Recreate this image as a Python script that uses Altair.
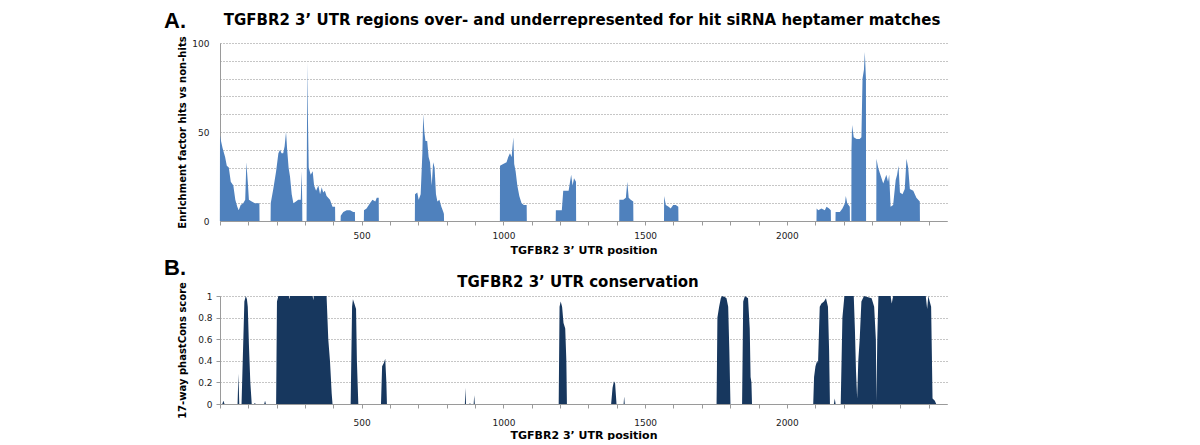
import altair as alt
import pandas as pd

FONT = "DejaVu Sans"
LABEL_FONT = "Liberation Sans"

# ---------------- Panel A: enrichment factor (hits vs non-hits), one list per region
# (UTR position, enrichment factor)
a_region_1 = [(0, 48), (2, 46), (9, 41), (18, 36), (24, 31), (31, 30), (38, 22), (47, 20), (54, 12),
              (61, 8), (66, 6), (73, 9), (82, 10), (89, 12), (93, 33), (98, 22), (102, 12), (112, 11),
              (123, 10), (139, 10)]
a_region_2 = [(179, 10), (188, 18), (198, 28), (206, 38), (212, 40), (217, 38), (223, 38), (228, 42),
              (233, 50), (237, 40), (242, 30), (247, 25), (253, 15), (259, 10), (268, 11), (276, 12),
              (285, 12), (288, 28), (290, 12)]
a_region_3 = [(306, 22), (308, 89), (310, 60), (313, 30), (320, 26), (327, 28), (332, 20), (339, 17),
              (347, 20), (353, 15), (359, 19), (364, 16), (370, 17), (376, 14), (388, 12), (397, 8),
              (406, 8)]
a_region_4 = [(426, 3), (435, 5), (447, 6), (459, 6), (470, 5), (476, 5)]
a_region_5 = [(508, 6), (517, 7), (529, 10), (538, 12), (548, 11), (553, 13), (560, 13)]
a_region_6 = [(688, 15), (696, 16), (701, 12), (708, 15), (714, 38), (717, 60), (721, 50), (725, 45),
              (731, 45), (736, 36), (741, 33), (747, 20), (752, 33), (757, 30), (762, 15), (767, 11),
              (774, 12), (781, 8), (788, 5), (790, 4)]
a_region_7 = [(988, 31), (999, 32), (1011, 33), (1017, 36), (1023, 38), (1029, 36), (1035, 47),
              (1038, 32), (1043, 28), (1049, 20), (1056, 14), (1064, 10), (1072, 9), (1082, 9)]
a_region_8 = [(1185, 6), (1199, 6), (1206, 6), (1211, 17), (1223, 17), (1230, 17), (1235, 22),
              (1239, 26), (1244, 20), (1249, 24), (1256, 22)]
a_region_9 = [(1409, 12), (1423, 12), (1432, 13), (1437, 22), (1442, 13), (1449, 12), (1458, 11)]
a_region_10 = [(1567, 14), (1573, 9), (1583, 8), (1590, 7), (1599, 9), (1608, 9), (1617, 8)]
a_region_11 = [(2105, 7), (2111, 6), (2122, 7), (2134, 6), (2140, 8), (2149, 7), (2155, 6)]
a_region_12 = [(2172, 5), (2187, 5), (2196, 7), (2205, 10), (2208, 14), (2213, 10), (2222, 8)]
a_region_13 = [(2228, 40), (2230, 54), (2236, 47), (2246, 46), (2257, 46), (2263, 47), (2267, 80),
               (2272, 85), (2275, 95), (2279, 80)]
a_region_14 = [(2316, 35), (2322, 30), (2328, 27), (2340, 21), (2351, 26), (2357, 22), (2361, 26),
               (2366, 8), (2375, 9), (2384, 23), (2389, 26), (2394, 31), (2399, 16), (2408, 15),
               (2416, 18), (2422, 35), (2428, 30), (2434, 18), (2446, 17), (2457, 13), (2469, 11)]

# ---------------- Panel B: 17-way phastCons score, one list per conserved block
b_block_1 = [(8, 0), (12, 0.03), (16, 0)]
b_block_2 = [(62, 0), (65, 0.28), (68, 0)]
b_block_3 = [(76, 0), (86, 0.95), (91, 1.0), (95, 0.97), (98, 0.9), (102, 0.55), (107, 0.2), (112, 0)]
b_block_4 = [(120, 0), (123, 0.01), (126, 0), (156, 0), (159, 0.03), (162, 0)]
b_block_5 = [(198, 0), (201, 0.95), (206, 1), (243, 1), (245, 0.97), (247, 1), (327, 1), (329, 0.96),
             (331, 1), (376, 1), (382, 0.6), (388, 0.4), (394, 0.1), (397, 0)]
b_block_6 = [(461, 0), (466, 0.9), (469, 0.97), (474, 0.93), (480, 0.88), (483, 0.4), (488, 0)]
b_block_7 = [(568, 0), (572, 0.35), (578, 0.38), (583, 0.42), (587, 0.2), (589, 0)]
b_block_8 = [(864, 0), (866, 0.15), (868, 0), (880, 0), (882, 0.01), (884, 0), (895, 0), (897, 0.08),
             (899, 0)]
b_block_9 = [(1195, 0), (1198, 0.9), (1202, 0.95), (1207, 0.9), (1212, 0.75), (1218, 0.7), (1222, 0.4),
             (1224, 0)]
b_block_10 = [(1380, 0), (1385, 0.15), (1390, 0.21), (1394, 0.19), (1399, 0), (1424, 0), (1426, 0.07),
              (1428, 0)]
b_block_11 = [(1752, 0), (1755, 0.8), (1761, 0.9), (1767, 0.98), (1771, 1), (1781, 0.99), (1787, 0.98),
              (1793, 0.9), (1797, 0.5), (1801, 0)]
b_block_12 = [(1842, 0), (1846, 0.95), (1852, 1), (1863, 0.98), (1869, 0.7), (1872, 0.25), (1875, 0.2),
              (1877, 0)]
b_block_13 = [(2093, 0), (2096, 0.25), (2101, 0.35), (2107, 0.4), (2110, 0.38), (2116, 0.9), (2122, 0.93),
              (2131, 0.95), (2138, 0.98), (2145, 0.9), (2149, 0.5), (2152, 0)]
b_block_14 = [(2166, 0), (2169, 0.05), (2172, 0), (2190, 0), (2196, 0.8), (2203, 1), (2236, 1),
              (2240, 0.7), (2244, 0.3), (2248, 0.05), (2252, 0.4), (2257, 0.6), (2263, 0.95), (2272, 1),
              (2299, 0.98), (2308, 0.9), (2314, 0.6), (2316, 0.02), (2319, 0.6), (2323, 1), (2366, 1),
              (2370, 0.93), (2375, 1), (2490, 1), (2495, 0.88), (2499, 1), (2504, 0.95), (2509, 0.9),
              (2514, 0.05), (2522, 0.03), (2527, 0)]

x_ticks = list(range(0, 2501, 100))
x_domain = [0, 2565]
a_y_ticks = list(range(0, 101, 10))
b_y_ticks = [0, 0.2, 0.4, 0.6, 0.8, 1]

title_a = "TGFBR2 3\u2019 UTR regions over- and underrepresented for hit siRNA heptamer matches"
title_b = "TGFBR2 3\u2019 UTR conservation"
x_title = "TGFBR2 3\u2019 UTR position"


def table(regions, close_to_zero):
    rows = []
    for r in regions:
        if close_to_zero:
            rows.append((r[0][0] - 0.5, 0))
        rows.extend(r)
        if close_to_zero:
            rows.append((r[-1][0] + 0.5, 0))
    return pd.DataFrame(rows, columns=["pos", "val"])


df_a = table([a_region_1, a_region_2, a_region_3, a_region_4, a_region_5, a_region_6, a_region_7,
              a_region_8, a_region_9, a_region_10, a_region_11, a_region_12, a_region_13, a_region_14],
             True)
df_b = table([b_block_1, b_block_2, b_block_3, b_block_4, b_block_5, b_block_6, b_block_7, b_block_8,
              b_block_9, b_block_10, b_block_11, b_block_12, b_block_13, b_block_14], False)

W, HA, HB = 727, 178, 108
AXIS_GRAY = "#9a9a9a"
label_expr = "datum.value >= 500 && datum.value <= 2000 && datum.value % 500 == 0 ? datum.label : ''"


def x_axis(label_pad, title_pad):
    return alt.Axis(values=x_ticks, format="d", labelExpr=label_expr, labelOverlap=False,
                    labelFlush=False, grid=False, ticks=True, tickSize=4, tickColor=AXIS_GRAY,
                    domainColor=AXIS_GRAY, labelFont=FONT, labelFontSize=9, labelColor="#222",
                    labelPadding=label_pad, title=x_title, titleFont=FONT, titleFontSize=11,
                    titleFontWeight="bold", titleColor="#000", titlePadding=title_pad)


def text_layer(txt, x, y, size, font, align):
    return alt.Chart(pd.DataFrame({"t": [txt]})).mark_text(
        font=font, fontSize=size, fontWeight="bold", align=align, baseline="alphabetic", color="#000"
    ).encode(text="t:N", x=alt.value(x), y=alt.value(y))


area_a = alt.Chart(df_a).mark_area(color="#4F81BD", opacity=1).encode(
    x=alt.X("pos:Q", scale=alt.Scale(domain=x_domain, nice=False, zero=False), axis=x_axis(6, 4)),
    y=alt.Y("val:Q", scale=alt.Scale(domain=[0, 100], nice=False),
            axis=alt.Axis(values=a_y_ticks, labelExpr="datum.value % 50 == 0 ? datum.label : ''",
                          grid=True, gridColor="#8c8c8c", gridDash=[1, 2], gridWidth=1,
                          ticks=False, tickSize=0, domainColor=AXIS_GRAY, labelFont=FONT,
                          labelFontSize=9, labelColor="#222", labelPadding=11,
                          minExtent=27, maxExtent=27,
                          title="Enrichment factor hits vs non-hits", titleFont=FONT,
                          titleFontSize=10, titleFontWeight="bold", titleColor="#000",
                          titlePadding=6)),
)

panel_a = alt.layer(
    area_a,
    text_layer("A.", -56, -15, 22, LABEL_FONT, "left"),
    text_layer(title_a, 362, -18, 15, FONT, "center"),
).properties(width=W, height=HA)

area_b = alt.Chart(df_b).mark_area(color="#17375E", opacity=1).encode(
    x=alt.X("pos:Q", scale=alt.Scale(domain=x_domain, nice=False, zero=False), axis=x_axis(10, 2)),
    y=alt.Y("val:Q", scale=alt.Scale(domain=[0, 1], nice=False),
            axis=alt.Axis(values=b_y_ticks, format="~g", grid=True, gridColor="#8c8c8c",
                          gridDash=[1, 2], gridWidth=1, ticks=True, tickSize=4,
                          tickColor=AXIS_GRAY, domainColor=AXIS_GRAY, labelFont=FONT,
                          labelFontSize=9, labelColor="#222", labelPadding=4,
                          minExtent=27, maxExtent=27,
                          title="17-way phastCons score", titleFont=FONT, titleFontSize=10,
                          titleFontWeight="bold", titleColor="#000", titlePadding=6)),
)

panel_b = alt.layer(
    area_b,
    text_layer("B.", -56, -21, 22, LABEL_FONT, "left"),
    text_layer(title_b, 358, -9, 15, FONT, "center"),
).properties(width=W, height=HB)

chart = alt.vconcat(panel_a, panel_b, spacing=2).properties(
    padding={"left": 156, "top": 2, "right": 10, "bottom": 0},
    background="white",
).configure_view(strokeWidth=0)

chart.save("out.html", embed_options={"renderer": "svg", "actions": False})
